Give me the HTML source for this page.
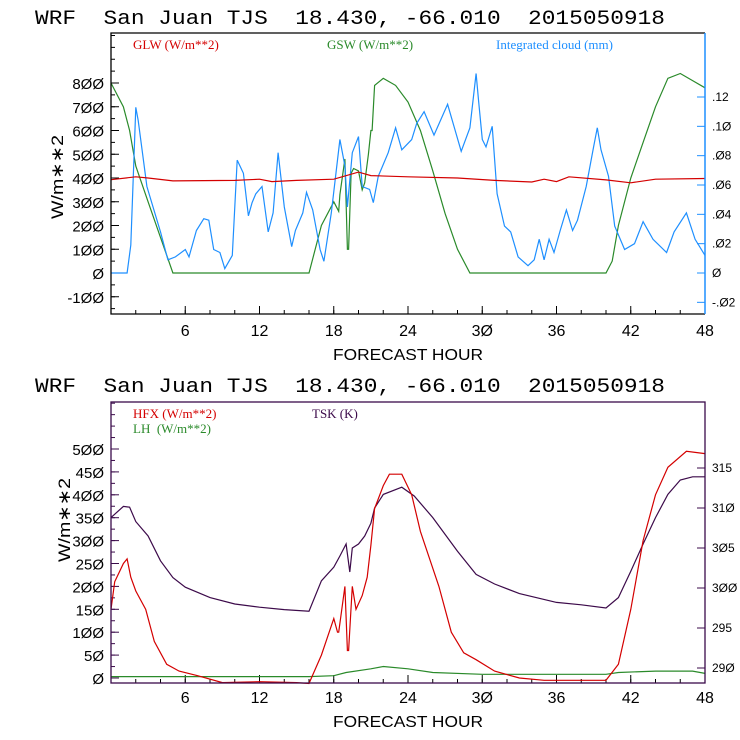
<!DOCTYPE html>
<html><head><meta charset="utf-8"><style>
body{margin:0;background:#fff}
svg{display:block}
text{font-family:"Liberation Sans",sans-serif;white-space:pre}
.ser{font-family:"Liberation Serif",serif;font-size:13px}
.ttl{font-family:"Liberation Mono",monospace}
</style></head><body>
<svg id="c" width="740" height="740" viewBox="0 0 740 740"></svg>
<script>
// ---- Top chart data ----
const gswHours=[0,1,1.5,2,3,4,5,16,17,18,18.4,18.5,18.9,19.1,19.2,19.4,19.6,20,20.3,20.5,20.8,21,21.1,21.3,22,23,24,25,26,27,28,29,40,40.5,41,42,43,44,45,46,47,48];
const gswVals=[800,700,600,450,300,150,0,0,200,300,260,330,480,100,100,420,440,430,350,380,500,600,600,790,820,790,720,600,430,250,100,0,0,50,200,400,550,700,820,840,810,780];
const glwHours=[0,2,3,5,10,12,13,15,18,20,21,24,28,31,34,35,36,37,40,42,44,48];
const glwVals=[393,405,400,388,390,395,385,390,395,425,410,405,400,390,383,395,385,405,392,380,395,398];
const cloudHours=[0,1.3,1.6,2,2.2,2.9,4,4.6,5.2,6,6.3,6.9,7.5,7.9,8.3,8.8,9.2,9.8,10.2,10.7,11.1,11.4,11.7,12.2,12.7,13.1,13.5,14,14.6,14.9,15.5,15.8,16.3,16.9,17.2,17.8,18.5,18.9,19.1,19.5,20,20.3,20.9,21.2,21.6,22.4,23,23.5,24.3,24.7,25.3,26.1,27.2,28.3,29,29.5,29.7,30,30.3,30.8,31.2,31.8,32.3,32.9,33.7,34.2,34.6,35,35.4,35.8,36.3,36.8,37.3,37.7,38.4,39,39.3,39.6,40.2,40.7,41.5,42.3,43,43.8,44.9,45.5,46.5,47.2,48];
const cloudVals=[0,0,0.019,0.113,0.104,0.059,0.028,0.009,0.011,0.016,0.011,0.029,0.037,0.036,0.016,0.014,0.003,0.012,0.077,0.068,0.039,0.048,0.054,0.059,0.028,0.041,0.082,0.045,0.018,0.029,0.041,0.055,0.043,0.016,0.008,0.041,0.091,0.073,0.045,0.082,0.093,0.059,0.057,0.048,0.066,0.082,0.099,0.084,0.091,0.102,0.110,0.094,0.115,0.083,0.099,0.136,0.118,0.091,0.086,0.100,0.054,0.032,0.028,0.011,0.005,0.009,0.023,0.009,0.023,0.014,0.029,0.043,0.029,0.036,0.059,0.086,0.099,0.084,0.066,0.032,0.016,0.020,0.035,0.023,0.014,0.028,0.041,0.023,0.012];
const topLeftTicks=[-100,0,100,200,300,400,500,600,700,800];
const topRightTicks=[-0.02,0,0.02,0.04,0.06,0.08,0.10,0.12];
const topRightLabels=["-.02","0",".02",".04",".06",".08",".10",".12"];
const xTicks=[6,12,18,24,30,36,42,48];
// ---- Bottom chart data ----
const hfxHours=[0,0.3,1,1.3,1.6,2,2.8,3.5,4.5,5.5,7,9,12,15,16,17,18,18.3,18.4,18.9,19.1,19.2,19.5,19.8,20.3,20.7,21,21.3,22,22.5,23.5,24.3,25,26.5,27.5,28.5,29.5,31,33,35,38,40,41,42,43,44,45,46.5,48];
const hfxVals=[150,210,250,260,220,190,150,80,30,15,5,-10,-8,-10,-12,50,130,100,100,200,60,60,200,150,180,220,290,370,420,445,445,400,320,200,100,55,40,15,0,-5,-5,-5,30,150,300,400,460,495,490];
const lhHours=[0,16,18,19,21,22,24,26,30,40,41,44,47,48];
const lhVals=[3,3,5,12,20,25,20,12,8,8,12,15,15,10];
const tskHours=[0,1,1.5,2,3,4,5,6,8,10,12,14,16,17,18,18.5,19,19.3,19.5,20,20.5,21,21.3,22,23.5,24.5,26,28,29.5,31,33,36,38,40,41,42,43,44,45,46,47,48];
const tskVals=[308.8,310.2,310.1,308.3,306.5,303.4,301.3,300.1,298.8,298,297.6,297.3,297.1,300.9,302.6,304,305.5,302,305,305.5,306.5,308.1,310,311.7,312.6,311.5,308.8,304.6,301.7,300.5,299.3,298.2,297.9,297.5,298.8,302.1,305.5,308.8,311.7,313.5,313.9,313.9];
const botLeftTicks=[0,50,100,150,200,250,300,350,400,450,500];
const botRightTicks=[290,295,300,305,310,315];

const svg=document.getElementById('c');
const NS='http://www.w3.org/2000/svg';
function mk(tag,attrs,parent){const e=document.createElementNS(NS,tag);for(const k in attrs)e.setAttribute(k,attrs[k]);(parent||svg).appendChild(e);return e;}
const X0=111,X1=705;
const xS=h=>X0+(X1-X0)*h/48;

function title(y){
  const t=mk('text',{x:35,y:y,'font-size':20,class:'ttl',textLength:630,lengthAdjust:'spacingAndGlyphs',fill:'#000'});
  
  
  t.textContent='WRF  San Juan TJS  18.430, -66.010  2015050918';
}
function line(hours,vals,yS,color,name){
  const pts=hours.map((h,i)=>xS(h).toFixed(1)+','+yS(vals[i]).toFixed(1)).join(' ');
  const p=mk('polyline',{points:pts,fill:'none',stroke:color,'stroke-width':1.2});
  
  
}
function txt(x,y,s,opts,name){
  const t=mk('text',Object.assign({x:x,y:y},opts));
  t.textContent=s;
  
  
  return t;
}
function xAxis(yb,yl){
  xTicks.forEach(h=>{
    mk('line',{x1:xS(h),x2:xS(h),y1:yb,y2:yb-8,stroke:'#000'});
    txt(xS(h),yl,String(h).replace(/0/g,'Ø'),{'font-size':16,'text-anchor':'middle'},'x-tick-label');
  });
  for(let h=2;h<48;h+=2){mk('line',{x1:xS(h),x2:xS(h),y1:yb,y2:yb-4,stroke:'#000'});}
  txt(408,yl+24,'FORECAST HOUR',{'font-size':16,'text-anchor':'middle',textLength:150,lengthAdjust:'spacingAndGlyphs'},'x-axis-title');
}

// ===== TOP =====
title(24);
const T0=33,T1=314;
const yT=v=>273-v*0.2375;
const yTR=v=>273-v*(176/0.12);
xAxis(T1,336);
topLeftTicks.forEach(v=>{
  mk('line',{x1:X0,x2:X0+8,y1:yT(v),y2:yT(v),stroke:'#000'});
  txt(104,yT(v)+6,String(v).replace(/0/g,'Ø'),{'font-size':15,'text-anchor':'end'},'top-y-tick-label');
});
for(let v=-150;v<=1000;v+=50){mk('line',{x1:X0,x2:X0+4,y1:yT(v),y2:yT(v),stroke:'#000'});}
topRightTicks.forEach((v,i)=>{
  mk('line',{x1:X1,x2:X1-8,y1:yTR(v),y2:yTR(v),stroke:'#1e90ff'});
  txt(712,yTR(v)+4,topRightLabels[i].replace(/0/g,'Ø'),{'font-size':12,fill:'#000'},'top-y2-tick-label');
});
txt(0,0,'W/m∗∗2',{'font-size':17,transform:'translate(63,177) rotate(-90)','text-anchor':'middle',textLength:84,lengthAdjust:'spacingAndGlyphs'},'top-y-axis-title');
line(gswHours,gswVals,yT,'#2a8a2a','gsw-line');
line(cloudHours,cloudVals,yTR,'#1e8fff','cloud-line');
line(glwHours,glwVals,yT,'#d40000','glw-line');
mk('path',{d:`M${X1},${T0}H${X0}V${T1}H${X1}`,fill:'none',stroke:'#000','stroke-width':1.3});
mk('line',{x1:X1,x2:X1,y1:T0,y2:T1,stroke:'#1e8fff','stroke-width':1.5});
txt(133,49,'GLW (W/m**2)',{class:'ser',fill:'#d40000'},'legend-glw');
txt(327,49,'GSW (W/m**2)',{class:'ser',fill:'#2a8a2a'},'legend-gsw');
txt(496,49,'Integrated cloud (mm)',{class:'ser',fill:'#1e8fff'},'legend-cloud');

// ===== BOTTOM =====
title(392);
const B0=402,B1=683;
const yB=v=>678-v*0.458;
const yBR=v=>668-(v-290)*8;
xAxis(B1,703);
botLeftTicks.forEach(v=>{
  mk('line',{x1:X0,x2:X0+8,y1:yB(v),y2:yB(v),stroke:'#3a0a4a'});
  txt(104,yB(v)+6,String(v).replace(/0/g,'Ø'),{'font-size':15,'text-anchor':'end'},'bottom-y-tick-label');
});
for(let v=25;v<=600;v+=25){if(yB(v)>B0)mk('line',{x1:X0,x2:X0+4,y1:yB(v),y2:yB(v),stroke:'#3a0a4a'});}
botRightTicks.forEach(v=>{
  mk('line',{x1:X1,x2:X1-8,y1:yBR(v),y2:yBR(v),stroke:'#3a0a4a'});
  txt(712,yBR(v)+4,String(v).replace(/0/g,'Ø'),{'font-size':12},'bottom-y2-tick-label');
});
txt(0,0,'W/m∗∗2',{'font-size':17,transform:'translate(70,520) rotate(-90)','text-anchor':'middle',textLength:84,lengthAdjust:'spacingAndGlyphs'},'bottom-y-axis-title');
line(lhHours,lhVals,yB,'#2a8a2a','lh-line');
line(tskHours,tskVals,yBR,'#3c0a4a','tsk-line');
line(hfxHours,hfxVals,yB,'#d40000','hfx-line');
mk('rect',{x:X0,y:B0,width:X1-X0,height:B1-B0,fill:'none',stroke:'#3a0a4a','stroke-width':1.3});
txt(133,418,'HFX (W/m**2)',{class:'ser',fill:'#d40000'},'legend-hfx');
txt(133,433,'LH  (W/m**2)',{class:'ser',fill:'#2a8a2a'},'legend-lh');
txt(312,418,'TSK (K)',{class:'ser',fill:'#3c0a4a'},'legend-tsk');
</script>
</body></html>
